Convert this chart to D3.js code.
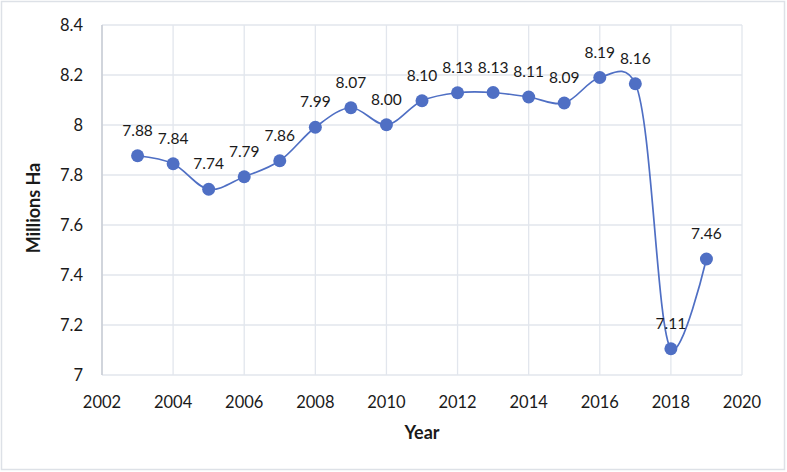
<!DOCTYPE html>
<html>
<head>
<meta charset="utf-8">
<script src="https://cdn.jsdelivr.net/npm/d3@7"></script>
<style>
body{margin:0;background:#fff;}
text{font-family:Lato,"Open Sans",sans-serif;fill:#1a1a1a;}
</style>
</head>
<body>
<div id="chart"></div>
<script>
var years = [2003,2004,2005,2006,2007,2008,2009,2010,2011,2012,2013,2014,2015,2016,2017,2018,2019]
var values = [7.877,7.845,7.743,7.793,7.857,7.991,8.069,8.001,8.097,8.129,8.13,8.112,8.088,8.19,8.165,7.105,7.464]
var labels = ["7.88","7.84","7.74","7.79","7.86","7.99","8.07","8.00","8.10","8.13","8.13","8.11","8.09","8.19","8.16","7.11","7.46"]
var xTicks = [2002,2004,2006,2008,2010,2012,2014,2016,2018,2020]
var yTicks = [7,7.2,7.4,7.6,7.8,8,8.2,8.4]

var W = 787, H = 472
var pL = 102, pR = 742, pT = 25, pB = 375
var col = "#4f6fc4"

var svg = d3.select("#chart").append("svg").attr("width",W).attr("height",H)

svg.append("rect").attr("x",1.5).attr("y",1.5).attr("width",W-4).attr("height",H-4)
	.attr("fill","#fff").attr("stroke","#dde1e7").attr("stroke-width",1.5)

var x = d3.scaleLinear().domain([2002,2020]).range([pL,pR])
var y = d3.scaleLinear().domain([7,8.4]).range([pB,pT])

// grid
svg.append("g").selectAll("line").data(yTicks).join("line")
	.attr("x1",pL).attr("x2",pR).attr("y1",d=>y(d)).attr("y2",d=>y(d))
	.attr("stroke","#e2e6ed").attr("stroke-width",1.3)
svg.append("g").selectAll("line").data(xTicks).join("line")
	.attr("x1",d=>x(d)).attr("x2",d=>x(d)).attr("y1",pT).attr("y2",pB)
	.attr("stroke","#e2e6ed").attr("stroke-width",1.3)

// left axis line
svg.append("line").attr("x1",pL).attr("x2",pL).attr("y1",pT).attr("y2",pB)
	.attr("stroke","#c9cdd4").attr("stroke-width",1.5)

// tick labels
svg.append("g").selectAll("text").data(yTicks).join("text")
	.attr("x",83).attr("y",d=>y(d)).attr("dy","0.35em").attr("text-anchor","end")
	.style("font-size","16.5px").text(d=>+d.toFixed(1))
svg.append("g").selectAll("text").data(xTicks).join("text")
	.attr("x",d=>x(d)).attr("y",408).attr("text-anchor","middle")
	.style("font-size","16.5px").text(d=>d)

// axis titles
svg.append("text").attr("x",(pL+pR)/2).attr("y",439).attr("text-anchor","middle")
	.style("font-size","18px").style("font-weight","bold").text("Year")
svg.append("text").attr("transform","translate(40,"+((pT+pB)/2+8)+") rotate(-90)")
	.attr("text-anchor","middle").style("font-size","18px").style("font-weight","bold").text("Millions Ha")

// smoothed line
var pts = years.map((d,i)=>[d,values[i]])
var line = d3.line().x(d=>x(d[0])).y(d=>y(d[1])).curve(d3.curveCatmullRom.alpha(0.25))
svg.append("path").datum(pts).attr("d",line).attr("fill","none")
	.attr("stroke",col).attr("stroke-width",1.7)

svg.append("g").selectAll("circle").data(pts).join("circle")
	.attr("cx",d=>x(d[0])).attr("cy",d=>y(d[1])).attr("r",6.5).attr("fill",col)

svg.append("g").selectAll("text").data(pts).join("text")
	.attr("x",d=>x(d[0])).attr("y",d=>y(d[1])-20).attr("text-anchor","middle")
	.style("font-size","15.5px").text((d,i)=>labels[i])
</script>
</body>
</html>
